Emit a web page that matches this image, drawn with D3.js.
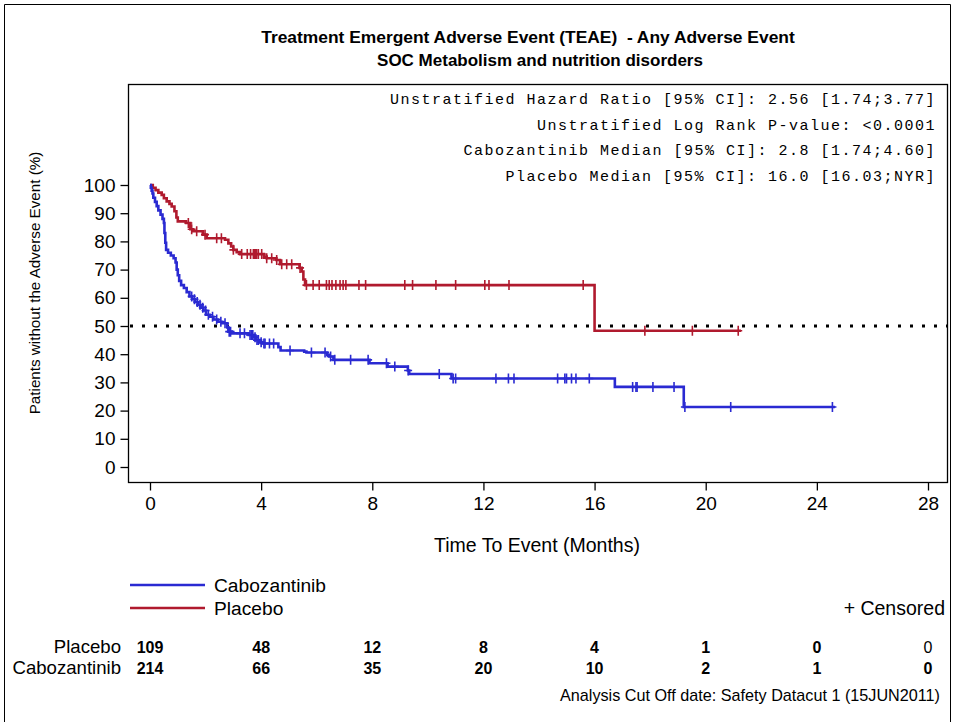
<!DOCTYPE html>
<html><head><meta charset="utf-8">
<script src="https://cdn.jsdelivr.net/npm/d3@7"></script>
<style>
body{margin:0;background:#fff;}
svg{display:block;}
text{font-family:"Liberation Sans",Arial,sans-serif;fill:#000;white-space:pre;}
.mono{font-family:"Liberation Mono","Courier New",monospace;}
</style></head>
<body>
<svg id="chart" width="954" height="722"></svg>
<script>
// ---------- data ----------
const titleLines = ["Treatment Emergent Adverse Event (TEAE)  - Any Adverse Event", "SOC Metabolism and nutrition disorders"];
const statsLines = [
  "Unstratified Hazard Ratio [95% CI]: 2.56 [1.74;3.77]",
  "Unstratified Log Rank P-value: <0.0001",
  "Cabozantinib Median [95% CI]: 2.8 [1.74;4.60]",
  "Placebo Median [95% CI]: 16.0 [16.03;NYR]"
];
const xTicks = [0, 4, 8, 12, 16, 20, 24, 28];
const yTicks = [0, 10, 20, 30, 40, 50, 60, 70, 80, 90, 100];
const seriesNames = ["Cabozantinib", "Placebo"];
const seriesColors = ["#2a2ad2", "#b01a2e"];

// Cabozantinib step curve (time in months, survival % after step)
const caboTime = [0,0.03,0.06,0.09,0.12,0.18,0.24,0.30,0.38,0.45,0.50,0.52,0.55,0.58,0.65,0.75,0.85,0.92,0.96,1.00,1.05,1.12,1.22,1.32,1.42,1.52,1.62,1.72,1.82,1.92,2.02,2.15,2.28,2.45,2.60,2.78,2.82,2.95,3.55,3.75,3.80,3.95,4.05,4.62,4.70,5.55,5.63,6.38,6.45,6.60,7.90,8.55,9.28,9.33,10.85,16.73,19.21,24.65];
const caboSurv = [100,99,98,97,95.5,94,92.5,91,89.5,88,86.5,83,79.5,77,76,75,74,72.5,70,68,66,64.5,63.5,62,60.5,59.5,58.5,57.5,56.5,55.5,54,53.3,52.3,51.5,51,49.5,48,47.4,46.8,46,45,44.2,43.8,42.5,41.3,40.9,40.6,39.8,39.2,38,36.8,35.6,34.2,33,31.4,28.4,21.3,21.3];
const caboCensor = [1.5,1.6,1.7,1.8,1.9,2.0,2.1,2.25,2.4,2.55,2.7,2.85,2.9,3.24,3.4,3.6,3.65,3.7,3.78,3.85,3.9,4.0,4.1,4.14,4.3,4.45,5.04,5.81,6.3,6.5,6.65,7.22,7.85,8.51,8.81,9.29,10.41,10.91,11.0,12.45,12.9,13.1,14.67,14.93,14.99,15.17,15.33,15.81,17.37,17.49,17.53,18.1,18.86,19.25,20.9,24.56];

// Placebo step curve
const placTime = [0,0.10,0.20,0.30,0.42,0.50,0.60,0.70,0.78,0.88,0.95,1.00,1.30,1.45,1.55,1.90,2.04,2.70,2.82,2.92,3.00,3.12,3.24,4.10,4.20,4.55,4.68,5.38,5.46,5.52,5.58,16.0,21.27];
const placSurv = [100,99,98.2,97.3,96.5,95.3,94.2,93.3,92.4,90.7,88.5,87.1,86.5,84.3,83.6,82.4,81.1,80.6,79.3,78.2,77.0,76.2,75.5,74.6,74.0,73.4,71.9,70.6,69.3,66.5,64.5,48.3,48.3];
const placCensor = [1.38,1.5,1.68,1.98,2.4,2.57,3.0,3.3,3.5,3.62,3.72,3.76,3.8,3.84,3.9,4.02,4.2,4.38,4.56,4.74,4.92,5.1,5.4,5.63,5.87,6.09,6.35,6.45,6.55,6.69,6.84,6.95,7.05,7.52,7.76,9.17,9.45,10.29,11.0,12.05,12.2,12.92,15.59,17.81,19.52,21.17];

// Numbers at risk
const riskRowNames = ["Placebo", "Cabozantinib"];
const riskPlacebo = [109, 48, 12, 8, 4, 1, 0, 0];
const riskCabo = [214, 66, 35, 20, 10, 2, 1, 0];

const xLabel = "Time To Event (Months)";
const yLabel = "Patients without the Adverse Event (%)";
const censorLabel = "+ Censored";
const footnote = "Analysis Cut Off date: Safety Datacut 1 (15JUN2011)";

// ---------- layout ----------
const svg = d3.select("#chart");
const W = 954, H = 722;
const frame = {l: 128, r: 947, t: 84, b: 482};
const x = d3.scaleLinear().domain([0, 28]).range([150, 928]);
const y = d3.scaleLinear().domain([0, 100]).range([467, 185]);

svg.append("rect").attr("width", W).attr("height", H).attr("fill", "#fff");
// outer border
svg.append("path").attr("d", `M4.5,${H+2}V4.5H950.5V${H+2}`).attr("fill","none").attr("stroke","#000").attr("stroke-width",1);

// titles
svg.append("text").attr("x", 528).attr("y", 43).attr("text-anchor","middle")
  .attr("font-size", 17.4).attr("font-weight","bold").text(titleLines[0]);
svg.append("text").attr("x", 540).attr("y", 66).attr("text-anchor","middle")
  .attr("font-size", 17).attr("font-weight","bold").text(titleLines[1]);

// plot frame
svg.append("rect").attr("x", frame.l+0.5).attr("y", frame.t+0.5)
  .attr("width", frame.r-frame.l).attr("height", frame.b-frame.t)
  .attr("fill","none").attr("stroke","#000").attr("stroke-width",1.3);

// axes
const xAxis = d3.axisBottom(x).tickValues(xTicks).tickSize(8).tickPadding(6).tickFormat(d3.format("d"));
const gx = svg.append("g").attr("transform", `translate(0,${frame.b+0.5})`).call(xAxis);
gx.select(".domain").remove();
gx.selectAll("text").attr("font-size", 19).style("font-family","Liberation Sans, Arial, sans-serif");
gx.selectAll("line").attr("stroke-width",1.3);

const yAxis = d3.axisLeft(y).tickValues(yTicks).tickSize(8).tickPadding(5).tickFormat(d3.format("d"));
const gy = svg.append("g").attr("transform", `translate(${frame.l+0.5},0)`).call(yAxis);
gy.select(".domain").remove();
gy.selectAll("text").attr("font-size", 19).style("font-family","Liberation Sans, Arial, sans-serif");
gy.selectAll("line").attr("stroke-width",1.3);

svg.append("text").attr("transform", `translate(40,${283}) rotate(-90)`).attr("text-anchor","middle")
  .attr("font-size", 15.2).text(yLabel);
svg.append("text").attr("x", 537).attr("y", 552).attr("text-anchor","middle")
  .attr("font-size", 19.5).text(xLabel);

// 50% reference line
svg.append("line").attr("x1", frame.l+2).attr("x2", frame.r).attr("y1", y(50)).attr("y2", y(50))
  .attr("stroke","#000").attr("stroke-width",3).attr("stroke-dasharray","3,9");

// stats annotation
statsLines.forEach((s, i) => {
  svg.append("text").attr("class","mono").attr("x", 936).attr("y", 104 + i*25.5)
    .attr("text-anchor","end").attr("font-size", 15).attr("letter-spacing", 1.5).text(s);
});

// curves
const line = d3.line().x(d => x(d[0])).y(d => y(d[1])).curve(d3.curveStepAfter);
function stepAt(times, surv, t) {
  const i = d3.bisectRight(times, t) - 1;
  return surv[Math.max(0, i)];
}
const curves = [
  {times: placTime, surv: placSurv, cens: placCensor, color: seriesColors[1]},
  {times: caboTime, surv: caboSurv, cens: caboCensor, color: seriesColors[0]}
];
curves.forEach(c => {
  const pts = c.times.map((t, i) => [t, c.surv[i]]);
  svg.append("path").attr("d", line(pts)).attr("fill","none")
    .attr("stroke", c.color).attr("stroke-width", 2.6);
  svg.append("g").selectAll("path").data(c.cens).join("path")
    .attr("d", t => {
      const cx = x(t), cy = y(stepAt(c.times, c.surv, t));
      return `M${cx-4},${cy}H${cx+4}M${cx},${cy-5}V${cy+5}`;
    })
    .attr("stroke", c.color).attr("stroke-width", 1.6).attr("fill","none");
});

// legend
seriesNames.forEach((n, i) => {
  const ly = 585 + i*23;
  svg.append("line").attr("x1", 130).attr("x2", 205).attr("y1", ly).attr("y2", ly)
    .attr("stroke", seriesColors[i]).attr("stroke-width", 2.6);
  svg.append("text").attr("x", 214).attr("y", ly+7).attr("font-size", 19.2).text(n);
});
svg.append("text").attr("x", 945).attr("y", 615).attr("text-anchor","end").attr("font-size", 19.5).text(censorLabel);

// numbers at risk
const riskRows = [riskPlacebo, riskCabo];
riskRows.forEach((row, r) => {
  const ry = 653 + r*21;
  svg.append("text").attr("x", 121).attr("y", ry).attr("text-anchor","end").attr("font-size", 18.6).text(riskRowNames[r]);
  svg.append("g").selectAll("text").data(row).join("text")
    .attr("x", (d, i) => x(xTicks[i])).attr("y", ry).attr("text-anchor","middle")
    .attr("font-size", 16).attr("font-weight", (d,i) => (r === 0 && i === row.length-1) ? "normal" : "bold")
    .text(d => d);
});

svg.append("text").attr("x", 940).attr("y", 701).attr("text-anchor","end").attr("font-size", 16.2).text(footnote);
</script>
</body></html>
